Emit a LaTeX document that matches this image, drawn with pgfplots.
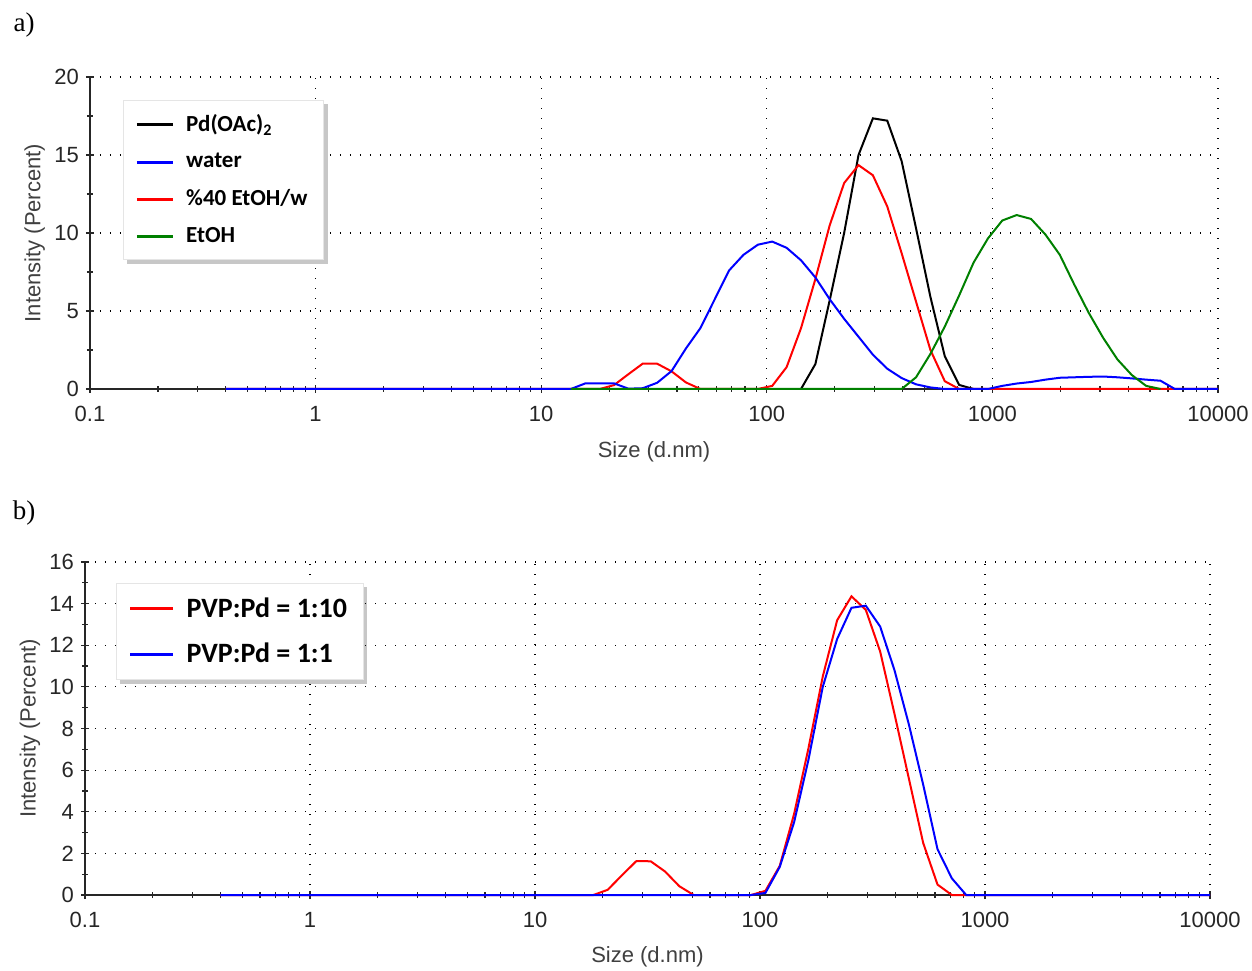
\documentclass[border=0pt]{standalone}
\usepackage{fontspec}
\setmainfont{Liberation Sans}
\newfontfamily\legfont{Carlito}
\newfontfamily\timesfont{Liberation Serif}
\usepackage{pgfplots}
\usepackage{pgfplotstable}
\pgfplotsset{compat=1.18}
\usetikzlibrary{backgrounds}

\definecolor{dlsred}{RGB}{255,0,0}
\definecolor{dlsblue}{RGB}{0,0,255}
\definecolor{dlsgreen}{RGB}{0,128,0}

% size (d.nm)  intensity (%)
\pgfplotstableread{
x y
141.8 0
164.2 1.6
190.1 5.7
220.2 10.0
255.0 15.0
295.3 17.35
342.0 17.2
396.1 14.6
458.7 10.3
531.2 5.9
615.1 2.1
712.4 0.26
825.0 0
}\pdoac

\pgfplotstableread{
x y
0.4 0
13.54 0
15.69 0.36
18.17 0.36
21.04 0.36
24.36 0.02
28.21 0.05
32.67 0.4
37.84 1.15
43.82 2.6
50.75 3.9
58.77 5.75
68.06 7.6
78.82 8.6
91.28 9.25
105.7 9.45
122.4 9.05
141.8 8.25
164.2 7.15
190.1 5.75
220.2 4.5
255.0 3.35
295.3 2.2
342.0 1.3
396.1 0.7
458.7 0.3
531.2 0.1
615.1 0
955.4 0
1106 0.2
1281 0.35
1484 0.45
1718 0.6
1990 0.72
2305 0.75
2669 0.78
3091 0.8
3580 0.75
4145 0.68
4801 0.6
5560 0.53
6439 0
10000 0
}\water

\pgfplotstableread{
x y
0.4 0
18.17 0
21.04 0.25
24.36 0.95
28.21 1.63
32.67 1.62
37.84 1.13
43.82 0.42
50.75 0
91.28 0
105.7 0.2
122.4 1.4
141.8 3.9
164.2 7.05
190.1 10.5
220.2 13.2
255.0 14.35
295.3 13.7
342.0 11.7
396.1 8.7
458.7 5.6
531.2 2.5
615.1 0.5
712.4 0
10000 0
}\ethwater

\pgfplotstableread{
x y
13.54 0
396.1 0
458.7 0.75
531.2 2.25
615.1 4.0
712.4 6.0
825.0 8.1
955.4 9.65
1106 10.8
1281 11.15
1484 10.9
1718 9.9
1990 8.6
2305 6.7
2669 4.9
3091 3.3
3580 1.9
4145 0.9
4801 0.2
5560 0
}\etoh

\pgfplotstableread{
x y
0.4 0
91.28 0
105.7 0.1
122.4 1.35
141.8 3.5
164.2 6.5
190.1 10.0
220.2 12.3
255.0 13.8
295.3 13.9
342.0 12.9
396.1 10.8
458.7 8.2
531.2 5.3
615.1 2.2
712.4 0.8
825.0 0
10000 0
}\pvpone

\begin{document}
\begin{tikzpicture}
\path[use as bounding box] (0,0) rectangle (626pt,485pt);

\node[font=\timesfont\fontsize{13.5}{15}\selectfont] at (12pt,472.5pt) {a)};
\node[font=\timesfont\fontsize{13.5}{15}\selectfont] at (12pt,228.5pt) {b)};

\begin{axis}[
  scale only axis,
  at={(45pt,290.5pt)}, anchor=south west,
  width=564pt, height=156pt,
  xmode=log, xmin=0.1, xmax=10000, ymin=0, ymax=20,
  ytick={0,5,10,15,20}, minor y tick num=1,
  clip=false,
  axis lines=left,
  axis line style={-, black!85, line width=0.8pt},
  tick align=center,
  major tick length=4pt, minor tick length=3pt,
  tick style={black!85, line width=0.6pt},
  log ticks with fixed point,
  /pgf/number format/1000 sep={},
  /pgf/number format/assume math mode=true,
  ticklabel style={font=\fontsize{11}{13}\selectfont, black!85},
  xticklabel style={yshift=-3pt},
  label style={font=\fontsize{11}{13}\selectfont, black!75},
  xlabel={Size (d.nm)},
  ylabel={Intensity (Percent)},
  xlabel style={at={(axis description cs:0.5,-0.2)}, anchor=center},
  ylabel style={at={(axis description cs:-0.049,0.5)}, anchor=center},
  grid=major,
  major grid style={black, line width=0.55pt, dash pattern=on 0.55pt off 4.45pt},
  legend cell align=left,
  legend image code/.code={\draw[#1, line width=1.4pt] (0pt,0pt) -- (18pt,0pt);},
  legend style={at={(0.0293,0.926)}, anchor=north west, name=legA,
    draw=black!10, fill=white,
    inner xsep=6pt, inner ysep=5pt, row sep=5.4pt,
    /tikz/every odd column/.append style={column sep=4pt},
    font=\legfont\bfseries\fontsize{11.5}{12}\selectfont},
]
\addlegendimage{black, line width=1pt}
\addlegendentry{Pd(OAc)\textsubscript{2}}
\addlegendimage{dlsblue, line width=1pt}
\addlegendentry{water}
\addlegendimage{dlsred, line width=1pt}
\addlegendentry{\%40 EtOH/w}
\addlegendimage{dlsgreen, line width=1pt}
\addlegendentry{EtOH}
\addplot[black, line width=1pt, forget plot] table {\pdoac};
\addplot[dlsred, line width=1pt, forget plot] table {\ethwater};
\addplot[dlsblue, line width=1pt, forget plot] table {\water};
\addplot[dlsgreen, line width=1pt, forget plot] table {\etoh};
\end{axis}

\begin{axis}[
  scale only axis,
  at={(42.5pt,37.5pt)}, anchor=south west,
  width=562.5pt, height=166.5pt,
  xmode=log, xmin=0.1, xmax=10000, ymin=0, ymax=16,
  ytick={0,2,...,16}, minor y tick num=1,
  clip=false,
  axis lines=left,
  axis line style={-, black!85, line width=0.8pt},
  tick align=center,
  major tick length=4pt, minor tick length=3pt,
  tick style={black!85, line width=0.6pt},
  log ticks with fixed point,
  /pgf/number format/1000 sep={},
  /pgf/number format/assume math mode=true,
  ticklabel style={font=\fontsize{11}{13}\selectfont, black!85},
  xticklabel style={yshift=-3pt},
  label style={font=\fontsize{11}{13}\selectfont, black!75},
  xlabel={Size (d.nm)},
  ylabel={Intensity (Percent)},
  xlabel style={at={(axis description cs:0.5,-0.186)}, anchor=center},
  ylabel style={at={(axis description cs:-0.049,0.5)}, anchor=center},
  grid=major,
  major grid style={black, line width=0.55pt, dash pattern=on 0.55pt off 4.45pt},
  legend cell align=left,
  legend image code/.code={\draw[#1, line width=1.6pt] (0pt,0pt) -- (21.5pt,0pt);},
  legend style={at={(0.0276,0.937)}, anchor=north west, name=legB,
    draw=black!10, fill=white,
    inner xsep=6pt, inner ysep=5pt, row sep=7.5pt,
    /tikz/every odd column/.append style={column sep=4pt},
    font=\legfont\bfseries\fontsize{14}{14}\selectfont},
]
\addplot[dlsred, line width=1pt] table {\ethwater};
\addlegendentry{PVP:Pd = 1:10}
\addplot[dlsblue, line width=1pt] table {\pvpone};
\addlegendentry{PVP:Pd = 1:1}
\end{axis}

\begin{pgfonlayer}{background}
\foreach \L in {legA,legB}{
  \fill[black!22] ([shift={(2pt,-2pt)}]\L.south west) rectangle ([shift={(2pt,-2pt)}]\L.north east);
}
\end{pgfonlayer}
\end{tikzpicture}
\end{document}
